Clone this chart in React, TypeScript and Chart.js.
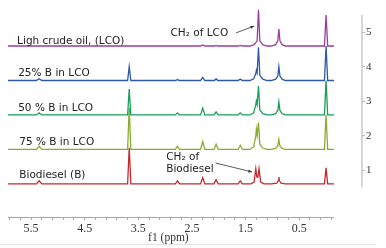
import React, { useEffect, useRef } from "react";
import { Chart, registerables } from "chart.js";

Chart.register(...registerables);

// ---- data (ppm, intensity above the trace baseline) ----
const TRACE_NAMES = ["Ligh crude oil, (LCO)", "25% B in LCO", "50 % B in LCO", "75 % B in LCO", "Biodiesel (B)"];
const TRACE_COLORS = ["#9c3d9c", "#2e57a5", "#17a05a", "#8bab2f", "#c42a2c"];
const TRACE_BASELINES = [4.6, 3.6, 2.6, 1.6, 0.6];

const LCO: number[][] = [
  [5.93, 0], [2.34, 0], [2.30, 0.03], [2.26, 0], [2.08, 0], [2.05, 0.02], [2.02, 0],
  [1.64, 0], [1.60, 0.02], [1.56, 0],
  [1.42, 0], [1.34, 0.04], [1.285, 0.15], [1.26, 1.05], [1.235, 0.15], [1.18, 0.04], [1.10, 0],
  [1.02, 0], [0.94, 0.04], [0.90, 0.15], [0.88, 0.49], [0.86, 0.15], [0.82, 0.04], [0.76, 0],
  [0.03, 0], [0.0, 0.9], [-0.03, 0], [-0.15, 0],
];
const B25: number[][] = [
  [5.93, 0], [5.40, 0], [5.35, 0.05], [5.30, 0],
  [3.70, 0], [3.67, 0.40], [3.64, 0],
  [2.80, 0], [2.77, 0.03], [2.74, 0],
  [2.34, 0], [2.30, 0.09], [2.26, 0],
  [2.08, 0], [2.05, 0.05], [2.02, 0],
  [1.64, 0], [1.60, 0.04], [1.56, 0],
  [1.42, 0], [1.35, 0.05], [1.31, 0.2], [1.30, 0.29], [1.285, 0.22], [1.26, 0.96], [1.235, 0.15], [1.18, 0.04], [1.10, 0],
  [1.02, 0], [0.94, 0.04], [0.90, 0.13], [0.88, 0.40], [0.86, 0.13], [0.82, 0.04], [0.76, 0],
  [0.03, 0], [0.0, 1.0], [-0.03, 0], [-0.15, 0],
];
const B50: number[][] = [
  [5.93, 0], [5.40, 0], [5.35, 0.06], [5.30, 0],
  [3.70, 0], [3.67, 0.75], [3.64, 0],
  [2.81, 0], [2.77, 0.06], [2.73, 0],
  [2.34, 0], [2.30, 0.20], [2.26, 0],
  [2.09, 0], [2.05, 0.09], [2.01, 0],
  [1.64, 0], [1.60, 0.06], [1.56, 0],
  [1.42, 0], [1.35, 0.06], [1.31, 0.3], [1.30, 0.40], [1.285, 0.3], [1.26, 0.84], [1.235, 0.15], [1.18, 0.04], [1.10, 0],
  [1.02, 0], [0.94, 0.04], [0.90, 0.13], [0.88, 0.38], [0.86, 0.13], [0.82, 0.04], [0.76, 0],
  [0.03, 0], [0.0, 1.0], [-0.03, 0], [-0.15, 0],
];
const B75: number[][] = [
  [5.93, 0], [5.40, 0], [5.35, 0.09], [5.30, 0],
  [3.70, 0], [3.67, 1.2], [3.64, 0],
  [2.81, 0], [2.77, 0.09], [2.73, 0],
  [2.34, 0], [2.30, 0.23], [2.26, 0],
  [2.09, 0], [2.05, 0.15], [2.01, 0],
  [1.64, 0], [1.60, 0.12], [1.56, 0],
  [1.42, 0], [1.35, 0.08], [1.31, 0.4], [1.30, 0.58], [1.285, 0.4], [1.26, 0.78], [1.235, 0.15], [1.18, 0.04], [1.10, 0],
  [1.02, 0], [0.94, 0.03], [0.90, 0.1], [0.88, 0.29], [0.86, 0.1], [0.82, 0.03], [0.76, 0],
  [0.03, 0], [0.0, 1.0], [-0.03, 0], [-0.15, 0],
];
const BIO: number[][] = [
  [5.93, 0], [5.40, 0], [5.35, 0.09], [5.30, 0],
  [3.70, 0], [3.67, 1.05], [3.64, 0],
  [2.81, 0], [2.77, 0.09], [2.73, 0],
  [2.34, 0], [2.30, 0.18], [2.26, 0],
  [2.09, 0], [2.05, 0.12], [2.01, 0],
  [1.64, 0], [1.60, 0.09], [1.56, 0],
  [1.40, 0], [1.34, 0.06], [1.31, 0.44], [1.29, 0.2], [1.27, 0.2], [1.25, 0.44], [1.22, 0.06], [1.16, 0],
  [1.02, 0], [0.92, 0.02], [0.89, 0.1], [0.88, 0.2], [0.87, 0.1], [0.84, 0.02], [0.76, 0],
  [0.03, 0], [0.0, 0.47], [-0.03, 0], [-0.15, 0],
];
const TRACES = [LCO, B25, B50, B75, BIO];

const X_TICK_LABELS = ["5.5", "4.5", "3.5", "2.5", "1.5", "0.5"];
const Y_TICK_LABELS = [1, 2, 3, 4, 5];
const X_TITLE = "f1 (ppm)";

// label anchors (ppm, stacked intensity)
const TRACE_LABEL_POS = [
  [5.76, 4.75], [5.74, 3.82], [5.74, 2.80], [5.72, 1.81], [5.72, 0.86],
];
const NOTES = [
  { text: "CH\u2082 of LCO", ppm: 2.90, y: 4.98 },
  { text: "CH\u2082 of", ppm: 2.98, y: 1.38 },
  { text: "Biodiesel", ppm: 2.98, y: 1.03 },
];
const ARROWS = [
  { from: [1.68, 4.98], to: [1.34, 5.18] },
  { from: [2.06, 1.207], to: [1.38, 0.946] },
];

const X_MIN = -0.67, X_MAX = 5.93, Y_MIN = -0.36, Y_MAX = 5.5;
const AXIS_FROM = 5.93, AXIS_TO = -0.15;

const overlay = {
  id: "overlay",
  afterDraw(chart: any) {
    const { ctx, chartArea, scales } = chart;
    const xs = scales.x, ys = scales.y;
    ctx.save();
    // x axis line
    ctx.strokeStyle = "#a8a8a8";
    ctx.lineWidth = 1;
    ctx.beginPath();
    ctx.moveTo(xs.getPixelForValue(AXIS_FROM), chartArea.bottom + 0.5);
    ctx.lineTo(xs.getPixelForValue(AXIS_TO), chartArea.bottom + 0.5);
    ctx.stroke();
    // right axis line
    ctx.strokeStyle = "#c8c8c8";
    ctx.lineWidth = 1.5;
    ctx.beginPath();
    ctx.moveTo(chartArea.right, ys.getPixelForValue(0.5));
    ctx.lineTo(chartArea.right, ys.getPixelForValue(5.5));
    ctx.stroke();
    // faint bottom rule
    ctx.strokeStyle = "#e4e4e4";
    ctx.lineWidth = 1;
    ctx.beginPath();
    ctx.moveTo(0, 244.5);
    ctx.lineTo(376, 244.5);
    ctx.stroke();
    // x title
    ctx.fillStyle = "#333";
    ctx.font = "11.5px 'Liberation Serif', serif";
    ctx.textAlign = "center";
    ctx.textBaseline = "middle";
    ctx.fillText(X_TITLE, xs.getPixelForValue(2.94), 238);
    // trace labels
    ctx.fillStyle = "#222";
    ctx.font = "10.5px 'DejaVu Sans', sans-serif";
    ctx.textAlign = "left";
    TRACE_NAMES.forEach((t, i) => {
      ctx.fillText(t, xs.getPixelForValue(TRACE_LABEL_POS[i][0]), ys.getPixelForValue(TRACE_LABEL_POS[i][1]));
    });
    NOTES.forEach((n) => {
      ctx.fillText(n.text, xs.getPixelForValue(n.ppm), ys.getPixelForValue(n.y));
    });
    // arrows
    ctx.strokeStyle = "#333";
    ctx.fillStyle = "#333";
    ctx.lineWidth = 0.8;
    ARROWS.forEach((a) => {
      const x1 = xs.getPixelForValue(a.from[0]), y1 = ys.getPixelForValue(a.from[1]);
      const x2 = xs.getPixelForValue(a.to[0]), y2 = ys.getPixelForValue(a.to[1]);
      const ang = Math.atan2(y2 - y1, x2 - x1);
      ctx.beginPath();
      ctx.moveTo(x1, y1);
      ctx.lineTo(x2, y2);
      ctx.stroke();
      ctx.beginPath();
      ctx.moveTo(x2, y2);
      ctx.lineTo(x2 - 4 * Math.cos(ang - 0.4), y2 - 4 * Math.sin(ang - 0.4));
      ctx.lineTo(x2 - 4 * Math.cos(ang + 0.4), y2 - 4 * Math.sin(ang + 0.4));
      ctx.closePath();
      ctx.fill();
    });
    ctx.restore();
  },
};

export default function App() {
  const ref = useRef<HTMLCanvasElement>(null);
  useEffect(() => {
    document.body.style.margin = "0";
    const canvas = ref.current;
    if (!canvas) return;
    const chart = new Chart(canvas, {
      type: "line",
      data: {
        datasets: TRACES.map((tr, i) => ({
          label: TRACE_NAMES[i],
          data: tr.map((p) => ({ x: p[0], y: TRACE_BASELINES[i] + p[1] })),
          borderColor: TRACE_COLORS[i],
          backgroundColor: TRACE_COLORS[i],
          borderWidth: 1.3,
          pointRadius: 0,
          tension: 0,
          clip: false as any,
        })),
      },
      options: {
        responsive: false,
        animation: false,
        layout: { padding: { left: 8, top: 15, right: 0, bottom: 0 } },
        plugins: { legend: { display: false }, tooltip: { enabled: false } },
        scales: {
          x: {
            type: "linear",
            reverse: true,
            min: X_MIN,
            max: X_MAX,
            afterBuildTicks: (s: any) => {
              const t = [];
              for (let k = 0; k <= 30; k++) {
                const v = Math.round((5.9 - 0.2 * k) * 10) / 10;
                t.push({ value: v });
              }
              s.ticks = t;
            },
            afterFit: (s: any) => { s.height = 31; },
            ticks: {
              autoSkip: false,
              maxRotation: 0,
              padding: 2,
              color: "#333",
              font: { family: "'Liberation Serif', serif", size: 12 },
              callback: (v: any) => {
                const s = Number(v).toFixed(1);
                return X_TICK_LABELS.includes(s) ? s : "";
              },
            },
            grid: { drawOnChartArea: false, drawTicks: true, tickLength: 3, color: "#a8a8a8" },
            border: { display: false },
          },
          y: {
            type: "linear",
            position: "right",
            min: Y_MIN,
            max: Y_MAX,
            afterBuildTicks: (s: any) => { s.ticks = Y_TICK_LABELS.map((v) => ({ value: v })); },
            afterFit: (s: any) => { s.width = 24; },
            ticks: {
              padding: 1,
              color: "#333",
              font: { family: "'Liberation Serif', serif", size: 11 },
              callback: (v: any) => String(v),
            },
            grid: { drawOnChartArea: false, drawTicks: true, tickLength: 3, color: "#b8b8b8" },
            border: { display: false },
          },
        },
      },
      plugins: [overlay],
    });
    return () => chart.destroy();
  }, []);
  return (
    <div style={{ width: 386, height: 248, background: "#fff" }}>
      <canvas ref={ref} width={386} height={248} style={{ display: "block" }} />
    </div>
  );
}
